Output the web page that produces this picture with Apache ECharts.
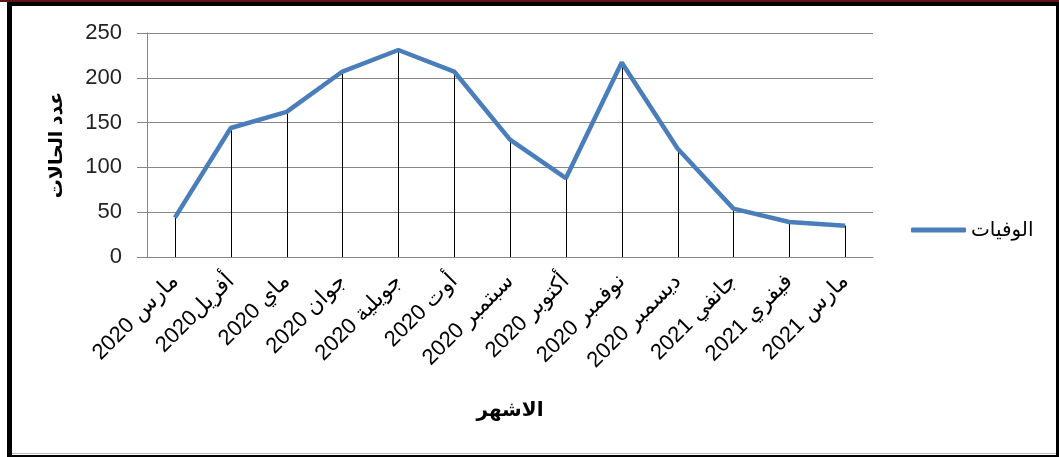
<!DOCTYPE html>
<html>
<head>
<meta charset="utf-8">
<script src="https://cdn.jsdelivr.net/npm/echarts@6/dist/echarts.min.js"></script>
<style>
html,body{margin:0;padding:0;background:#fff;}
#chart{width:1059px;height:457px;}
</style>
</head>
<body>
<div id="chart"></div>
<script>
var categories = ['مارس 2020','أفريل2020','ماي 2020','جوان 2020','جويلية 2020','أوت 2020','سبتمبر 2020','أكتوبر 2020','نوفمبر 2020','ديسمبر 2020','جانفي 2021','فيفري 2021','مارس 2021'];
var deaths = [44, 144, 162, 207, 231, 207, 131, 88, 217, 121, 54, 39, 35];
var seriesName = 'الوفيات';
var yAxisTitle = 'عدد الحالات';
var xAxisTitle = 'الاشهر';

var FONT = "'Liberation Sans', Arial, 'DejaVu Sans', sans-serif";
var chart = echarts.init(document.getElementById('chart'));
chart.setOption({
  animation: false,
  backgroundColor: '#fff',
  textStyle: { fontFamily: FONT },
  grid: { left: 147, right: 186, top: 33, bottom: 200 },
  legend: {
    data: [{ name: seriesName, icon: 'roundRect' }],
    left: 906, top: 215,
    itemWidth: 55, itemHeight: 5,
    itemStyle: { color: '#4A7EBB' },
    textStyle: { fontSize: 20, color: '#000', fontFamily: FONT }
  },
  xAxis: {
    type: 'category',
    data: categories,
    boundaryGap: true,
    axisLine: { lineStyle: { color: '#868686', width: 1 } },
    axisTick: { show: false },
    axisLabel: { rotate: 45, fontSize: 22, color: '#000', margin: 21, interval: 0, fontFamily: FONT },
    name: xAxisTitle,
    nameLocation: 'middle',
    nameGap: 143,
    nameTextStyle: { fontSize: 20, fontWeight: 'bold', color: '#000', fontFamily: FONT }
  },
  yAxis: {
    type: 'value',
    min: 0, max: 250, interval: 50,
    axisLine: { show: true, lineStyle: { color: '#868686', width: 1 } },
    axisTick: { show: true, length: 10, lineStyle: { color: '#868686' } },
    axisLabel: { fontSize: 22, color: '#222', margin: 25, fontFamily: FONT },
    splitLine: { lineStyle: { color: '#868686', width: 1 } },
    name: yAxisTitle,
    nameLocation: 'middle',
    nameGap: 81,
    nameRotate: 90,
    nameTextStyle: { fontSize: 19, fontWeight: 'bold', color: '#000', fontFamily: FONT }
  },
  series: [
    {
      name: 'drop',
      type: 'custom',
      z: 2,
      silent: true,
      data: deaths.map(function (v, i) { return [i, v]; }),
      renderItem: function (params, api) {
        var top = api.coord([api.value(0), api.value(1)]);
        var bot = api.coord([api.value(0), 0]);
        return {
          type: 'line',
          shape: { x1: Math.round(top[0]) + 0.5, y1: top[1], x2: Math.round(bot[0]) + 0.5, y2: bot[1] },
          style: { stroke: '#000', lineWidth: 1 }
        };
      }
    },
    {
      name: seriesName,
      type: 'line',
      data: deaths,
      symbol: 'none',
      z: 3,
      lineStyle: { color: '#4A7EBB', width: 4.5 },
      itemStyle: { color: '#4A7EBB' }
    }
  ],
  graphic: [
    { type: 'rect', shape: { x: 0, y: 0, width: 1059, height: 2 }, style: { fill: '#5c1616' }, silent: true },
    { type: 'rect', shape: { x: 7, y: 2, width: 1052, height: 4 }, style: { fill: '#000' }, silent: true },
    { type: 'rect', shape: { x: 7, y: 2, width: 5, height: 455 }, style: { fill: '#000' }, silent: true },
    { type: 'rect', shape: { x: 1056, y: 2, width: 3, height: 455 }, style: { fill: '#000' }, silent: true },
    { type: 'rect', shape: { x: 7, y: 455, width: 1052, height: 2 }, style: { fill: '#000' }, silent: true },
    { type: 'rect', shape: { x: 12, y: 453, width: 1044, height: 1 }, style: { fill: '#bbb' }, silent: true }
  ]
});
</script>
</body>
</html>
